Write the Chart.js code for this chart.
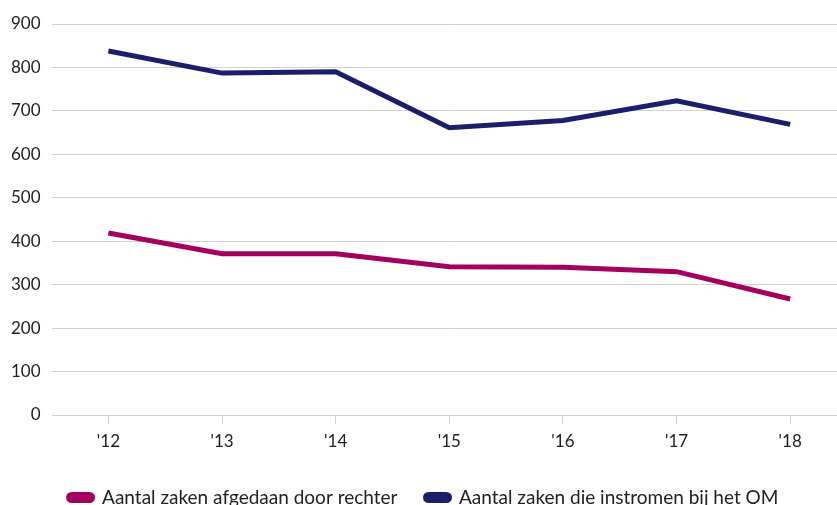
<!DOCTYPE html>
<html>
<head>
<meta charset="utf-8">
<script src="https://cdn.jsdelivr.net/npm/chart.js@4"></script>
<style>
  html, body { margin: 0; padding: 0; background: #fff; overflow: hidden; }
  /* the original plot runs a little past the right and bottom edges of the picture */
  #wrap { width: 847px; height: 517px; }
</style>
</head>
<body>
<div id="wrap"><canvas id="chart"></canvas></div>
<script>
// years on the x axis
const years = ["'12", "'13", "'14", "'15", "'16", "'17", "'18"];
// cases settled by the judge
const afgedaan = [419, 371, 371, 341, 340, 330, 267];
// cases coming in at the OM
const instroom = [838, 787, 790, 661, 678, 723, 669];
const yTicks = [0, 100, 200, 300, 400, 500, 600, 700, 800, 900];

const colors = {
  magenta: '#a4005e',
  navy: '#1a1f6c',
  grid: '#d0d0d0',
  text: '#222222'
};

Chart.defaults.font.family = 'Lato, "Open Sans", sans-serif';
Chart.defaults.color = colors.text;

new Chart(document.getElementById('chart'), {
  type: 'line',
  data: {
    labels: years,
    datasets: [{
      label: 'Aantal zaken afgedaan door rechter',
      data: afgedaan,
      borderColor: colors.magenta,
      backgroundColor: colors.magenta,
      borderWidth: 5,
      pointRadius: 0,
      tension: 0
    }, {
      label: 'Aantal zaken die instromen bij het OM',
      data: instroom,
      borderColor: colors.navy,
      backgroundColor: colors.navy,
      borderWidth: 5,
      pointRadius: 0,
      tension: 0
    }]
  },
  options: {
    responsive: true,
    maintainAspectRatio: false,
    animation: false,
    layout: { padding: { top: 24, right: 0, left: 0, bottom: 0 } },
    plugins: {
      tooltip: { enabled: false },
      legend: {
        position: 'bottom',
        align: 'center',
        labels: {
          boxWidth: 24,
          boxHeight: 6,
          useBorderRadius: true,
          borderRadius: 3,
          padding: 28,
          font: { size: 19 }
        }
      }
    },
    scales: {
      x: {
        offset: true,
        border: { display: false },
        grid: {
          offset: false,
          drawOnChartArea: false,
          drawTicks: true,
          tickLength: 9,
          color: colors.grid
        },
        ticks: { font: { size: 17 }, padding: 7 },
        // leave room between the year labels and the legend
        afterFit: axis => { axis.height = 45; }
      },
      y: {
        min: 0,
        max: 900,
        afterBuildTicks: axis => { axis.ticks = yTicks.map(v => ({ value: v })); },
        border: { display: false },
        grid: { color: colors.grid, drawTicks: false, lineWidth: 1 },
        ticks: { font: { size: 17 }, padding: 11 }
      }
    }
  }
});
</script>
</body>
</html>
